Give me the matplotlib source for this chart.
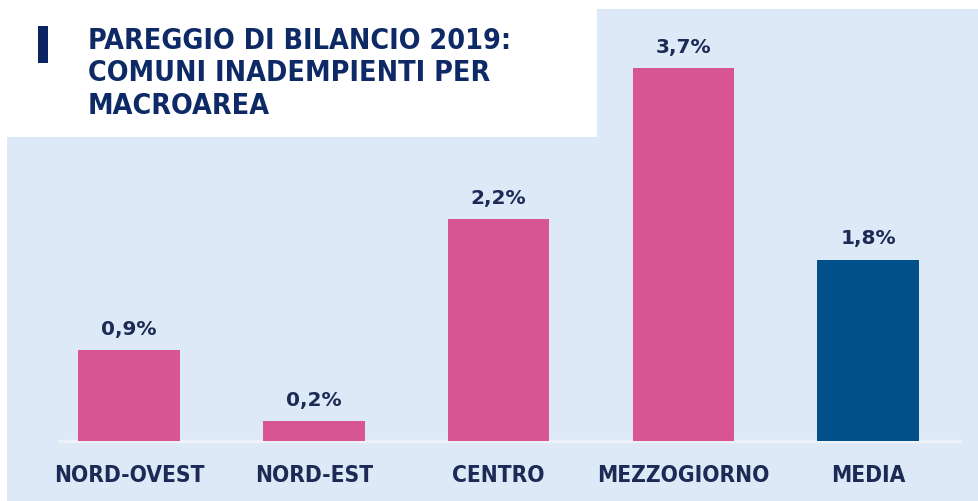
import matplotlib.pyplot as plt
from matplotlib.patches import Rectangle

aree = ['NORD-OVEST', 'NORD-EST', 'CENTRO', 'MEZZOGIORNO', 'MEDIA']
valori = [0.9, 0.2, 2.2, 3.7, 1.8]
etichette = ['0,9%', '0,2%', '2,2%', '3,7%', '1,8%']
colori = ['#d75592', '#d75592', '#d75592', '#d75592', '#02508a']

sfondo = '#dde9f6'
blu = '#0e2a66'

fig = plt.figure(figsize=(9.79, 5.02), dpi=100)
fig.patch.set_facecolor('white')

# sfondo azzurro
fig.patches.append(Rectangle((7 / 979, 0), 1, 1 - 10 / 502, transform=fig.transFigure,
                             facecolor=sfondo, edgecolor='none', zorder=-2))

ax = fig.add_axes([0, 0, 1, 1])
ax.set_zorder(1)
ax.patch.set_alpha(0)
x = range(len(aree))
ax.bar(x, valori, width=0.55, color=colori, zorder=3)
ax.set_xlim(-0.698, 4.60)
ax.set_ylim(-0.595, 4.385)
ax.axhline(0, xmin=60 / 979, xmax=960 / 979, color='#eef2f7', lw=2.5, zorder=2)

for i, v in enumerate(valori):
    ax.text(i, v + 0.12, etichette[i], ha='center', va='bottom', fontsize=14.5,
            fontweight='bold', color='#1c2a55', family='DejaVu Sans')
    ax.text(i, -0.33, aree[i], ha='center', va='center', fontsize=16.3,
            fontweight='bold', color='#1c2a55', family='DejaVu Sans',
            fontstretch='condensed')
ax.axis('off')

# riquadro del titolo
fig.patches.append(Rectangle((7 / 979, 1 - 138 / 502), 590 / 979, 128 / 502,
                             transform=fig.transFigure, facecolor='white',
                             edgecolor='none', zorder=-1))
fig.patches.append(Rectangle((38 / 979, 1 - 64 / 502), 10 / 979, 37 / 502,
                             transform=fig.transFigure, facecolor='#0a2464',
                             edgecolor='none', zorder=0))
fig.text(88 / 979, 1 - 27 / 502, 'PAREGGIO DI BILANCIO 2019:\nCOMUNI INADEMPIENTI PER\nMACROAREA',
         ha='left', va='top', fontsize=20.5, fontweight='bold', color=blu,
         family='DejaVu Sans', fontstretch='condensed', linespacing=1.2)

fig.savefig('out.png', dpi=100, facecolor=fig.get_facecolor())
